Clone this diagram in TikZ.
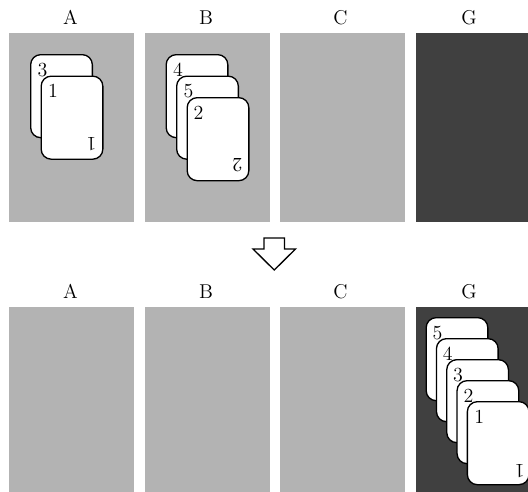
\documentclass[tikz,border=0pt]{standalone}
\usetikzlibrary{calc}

\definecolor{pilegray}{RGB}{179,179,179}
\definecolor{goalgray}{RGB}{64,64,64}

\tikzset{every picture/.style={line width=0.75pt}}
\tikzset{
  card/.style={draw, fill=white, line width=0.8pt, rounded corners=6pt,
    minimum width=37pt, minimum height=49.8pt, inner sep=0pt, anchor=north west},
  pilename/.style={anchor=base, inner sep=0.75pt},
  every node/.append style={font=\large},
}

\begin{document}
\begin{tikzpicture}[x=0.6pt,y=0.6pt,yscale=-1,xscale=1]
\path[use as bounding box, clip] (0,0) rectangle (528,492);

%Shape: Rectangle [top piles]
\fill [pilegray] (9,33) rectangle (134,222) ;
\fill [pilegray] (144.5,33) rectangle (269.5,222) ;
\fill [pilegray] (280,33) rectangle (405,222) ;
\fill [goalgray] (415.5,33) rectangle (540.5,222) ;
%Shape: Rectangle [bottom piles]
\fill [pilegray] (9,307) rectangle (134,496) ;
\fill [pilegray] (144.5,307) rectangle (269.5,496) ;
\fill [pilegray] (280,307) rectangle (405,496) ;
\fill [goalgray] (415.5,307) rectangle (540.5,496) ;

% Text Node
\node [pilename] (tA) at (70.5,25) {A};
\node [pilename] (tB) at (206,25) {B};
\node [pilename] (tC) at (340.5,25) {C};
\node [pilename] (tG) at (469,25) {G};
\node [pilename] (bA) at (70.5,298) {A};
\node [pilename] (bB) at (206,298) {B};
\node [pilename] (bC) at (340.5,298) {C};
\node [pilename] (bG) at (469,298) {G};

%Shape: Arrow [down]
\draw [fill=white, line width=0.8pt] (264,238) -- (284.5,238) -- (284.5,249) -- (295.5,249) -- (274.25,270) -- (253,249) -- (264,249) -- cycle ;

%Cards [pile A]
\node [card] (a3) at (30,54) {};
\node at ($(a3.north west)+(12.5,16)$) {3};
\node [card] (a1) at (40.5,75.5) {};
\node at ($(a1.north west)+(12.5,15.5)$) {1};
\node [rotate=180] at ($(a1.south east)+(-12,-16)$) {1};

%Cards [pile B]
\node [card] (b4) at (165.5,54) {};
\node at ($(b4.north west)+(12.5,16)$) {4};
\node [card] (b5) at (176,75.5) {};
\node at ($(b5.north west)+(12.5,15.5)$) {5};
\node [card] (b2) at (186.5,97) {};
\node at ($(b2.north west)+(12,15.5)$) {2};
\node [rotate=180] at ($(b2.south east)+(-12,-16)$) {2};

%Cards [pile G]
\node [card] (g5) at (425.5,317) {};
\node at ($(g5.north west)+(12,16)$) {5};
\node [card] (g4) at (435.8,338) {};
\node at ($(g4.north west)+(12,16)$) {4};
\node [card] (g3) at (446.1,359) {};
\node at ($(g3.north west)+(12,16)$) {3};
\node [card] (g2) at (456.4,380) {};
\node at ($(g2.north west)+(12,16)$) {2};
\node [card] (g1) at (466.7,401) {};
\node at ($(g1.north west)+(12.5,16)$) {1};
\node [rotate=180] at ($(g1.south east)+(-10,-14.5)$) {1};

\end{tikzpicture}
\end{document}
